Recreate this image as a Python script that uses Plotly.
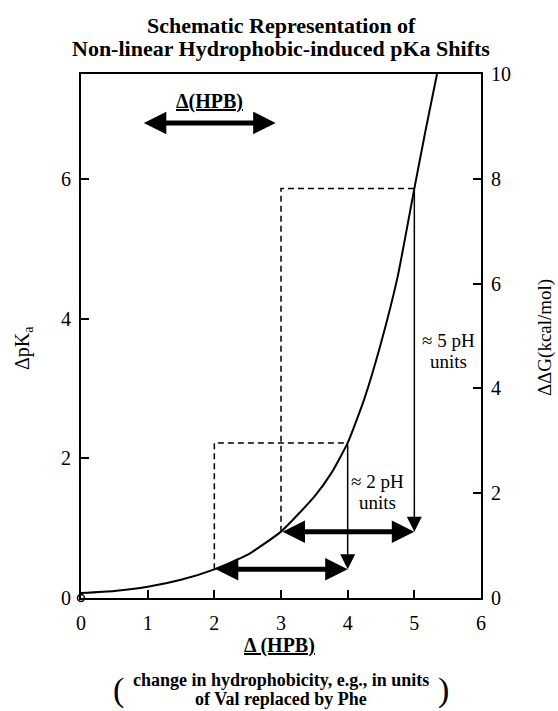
import plotly.graph_objects as go

# ---- data ----
hpb = [0, 0.5, 1, 1.5, 2, 2.5, 3, 3.5, 3.75, 4, 4.25, 4.5, 4.75, 5, 5.17, 5.34]
dpka = [0.07, 0.1, 0.16, 0.26, 0.41, 0.62, 0.95, 1.45, 1.78, 2.22, 2.85, 3.65, 4.6, 5.86, 6.7, 7.5]
start_levels = [2, 3]
hpb_step = 2
shift_label_lines = [["\u2248 2 pH", "units"], ["\u2248 5 pH", "units"]]
shift_label_x = [4.44, 5.51]
shift_label_y = [1.52, 3.53]
legend_arrow_x = [0.92, 2.92]
legend_arrow_y = 6.8
legend_label_y = 7.1
x_ticks = [0, 1, 2, 3, 4, 5, 6]
left_ticks = [0, 2, 4, 6]
right_ticks = [0, 2, 4, 6, 8, 10]
dpka_range = [0, 7.5]
ddg_range = [0, 10]
title_lines = ["Schematic Representation of", "Non-linear Hydrophobic-induced pKa Shifts"]
note_lines = ["change in hydrophobicity, e.g., in units", "of Val replaced by Phe"]

FONT = "Liberation Serif"
val = dict(zip(hpb, dpka))

fig = go.Figure()

# main curve
fig.add_trace(go.Scatter(x=hpb, y=dpka, mode="lines",
                         line=dict(color="black", width=2, shape="spline", smoothing=0.5),
                         showlegend=False, hoverinfo="skip"))

# dashed guide lines
for s in start_levels:
    e = s + hpb_step
    fig.add_trace(go.Scatter(x=[s, s, e], y=[val[s], val[e], val[e]], mode="lines",
                             line=dict(color="black", width=1.5, dash="6px,4px"),
                             showlegend=False, hoverinfo="skip"))

# origin open circle
fig.add_trace(go.Scatter(x=[x_ticks[0]], y=[left_ticks[0]], mode="markers",
                         marker=dict(symbol="circle-open", size=7, color="black",
                                     line=dict(width=1.5)),
                         cliponaxis=False, showlegend=False, hoverinfo="skip"))

# dummy trace for right axis
fig.add_trace(go.Scatter(x=[x_ticks[0]], y=[ddg_range[0]], yaxis="y2", mode="markers",
                         marker=dict(opacity=0), showlegend=False, hoverinfo="skip"))

annotations = []
for s in start_levels:
    e = s + hpb_step
    # thin vertical arrow
    annotations.append(dict(x=e, y=val[s], ax=e, ay=val[e], xref="x", yref="y",
                            axref="x", ayref="y", text="", showarrow=True,
                            arrowhead=2, arrowwidth=1.5, arrowsize=2.0,
                            arrowcolor="black", standoff=0, startstandoff=0))
    # thick double arrow
    annotations.append(dict(x=e, y=val[s], ax=s, ay=val[s], xref="x", yref="y",
                            axref="x", ayref="y", text="", showarrow=True,
                            arrowhead=2, startarrowhead=2, arrowside="end+start",
                            arrowwidth=5, arrowsize=0.9, startarrowsize=0.9,
                            arrowcolor="black", standoff=0, startstandoff=0))

for lines, lx, ly in zip(shift_label_lines, shift_label_x, shift_label_y):
    for i, t in enumerate(lines):
        annotations.append(dict(x=lx, y=ly, xref="x", yref="y", text=t, showarrow=False,
                                yshift=10.5 - 21 * i,
                                font=dict(family=FONT, size=19, color="black")))

# legend arrow
annotations.append(dict(x=legend_arrow_x[1], y=legend_arrow_y, ax=legend_arrow_x[0],
                        ay=legend_arrow_y, xref="x", yref="y", axref="x", ayref="y",
                        text="", showarrow=True, arrowhead=2, startarrowhead=2,
                        arrowside="end+start", arrowwidth=5, arrowsize=0.9,
                        startarrowsize=0.9, arrowcolor="black",
                        standoff=0, startstandoff=0))
annotations.append(dict(x=sum(legend_arrow_x) / 2, y=legend_label_y, xref="x", yref="y",
                        text="<b><u>\u0394(HPB)</u></b>", showarrow=False,
                        font=dict(family=FONT, size=20, color="black")))


def paper_text(x, y, text, size, angle=0):
    return dict(x=x, y=y, xref="paper", yref="paper", text=text, showarrow=False,
                xanchor="center", yanchor="middle", textangle=angle,
                font=dict(family=FONT, size=size, color="black"))


# title lines
for i, t in enumerate(title_lines):
    annotations.append(paper_text(0.5, 1.0935 - 0.0439 * i, "<b>" + t + "</b>", 22))

# axis titles
annotations.append(paper_text(-0.145, 0.477, "\u0394pK<sub>a</sub>", 20, -90))
annotations.append(paper_text(1.16, 0.496, "\u0394\u0394G(kcal/mol)", 19, -90))
annotations.append(paper_text(0.497, -0.0897, "<b><u>\u0394 (HPB)</u></b>", 20))
for i, t in enumerate(note_lines):
    annotations.append(paper_text(0.5, -0.156 - 0.0363 * i, "<b>" + t + "</b>", 18))
annotations.append(paper_text(0.093, -0.176, "(", 34))
annotations.append(paper_text(0.907, -0.176, ")", 34))

axis_common = dict(showline=True, linecolor="black", linewidth=2, ticks="inside",
                   ticklen=8, tickwidth=1.5, tickcolor="black", showgrid=False,
                   zeroline=False, tickfont=dict(family=FONT, size=20, color="black"))

fig.update_layout(
    width=558, height=711,
    margin=dict(l=81, r=77, t=74, b=113),
    paper_bgcolor="white", plot_bgcolor="white",
    xaxis=dict(range=[x_ticks[0], x_ticks[-1]], tickvals=x_ticks, mirror=True,
               ticklabelstandoff=6, **axis_common),
    yaxis=dict(range=dpka_range, tickvals=left_ticks, ticklabelstandoff=4, **axis_common),
    yaxis2=dict(range=ddg_range, tickvals=right_ticks, overlaying="y", side="right",
                ticklabelstandoff=4, **axis_common),
    annotations=annotations,
    showlegend=False,
)

fig.write_html("out.html")
